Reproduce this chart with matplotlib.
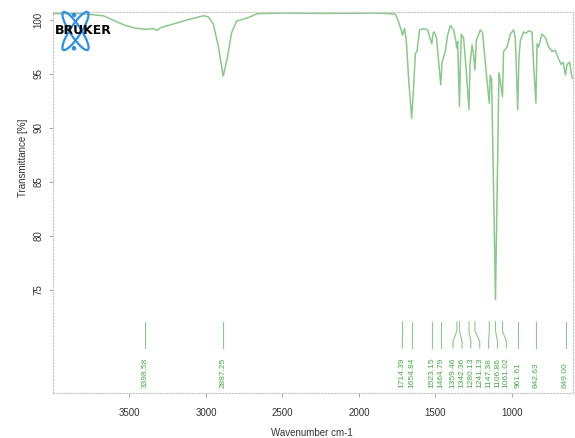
import matplotlib.pyplot as plt
from matplotlib.patches import Ellipse, Circle
from matplotlib.transforms import blended_transform_factory

# Spectrum (wavenumber cm-1, transmittance %)
wavenumber = [4000, 3820, 3670, 3592, 3526, 3461, 3398.58, 3343, 3317, 3297,
              3199, 3101, 3016, 2984, 2951, 2918, 2887.25, 2860, 2833, 2800,
              2755, 2729, 2663, 2500, 2200, 1900, 1800, 1761, 1740, 1724,
              1714.39, 1707, 1701, 1690, 1674, 1654.84, 1642, 1631, 1620, 1603,
              1576, 1550, 1537, 1523.15, 1515, 1507, 1493, 1478, 1464.79, 1456,
              1435, 1420, 1402, 1380, 1369, 1359.46, 1354, 1350, 1342.36, 1337,
              1330, 1315, 1300, 1280.13, 1273, 1260, 1251, 1241.13, 1232, 1206,
              1191, 1167, 1147.38, 1141, 1132, 1106.86, 1084, 1075, 1061.02, 1054,
              1031, 1010, 988, 977, 961.61, 953, 944, 923, 905, 890,
              868, 857, 842.63, 835, 825, 803, 781, 759, 737, 716,
              694, 678, 665, 649.00, 639, 622, 607, 600]
transmittance = [100.6, 100.6, 100.4, 99.9, 99.5, 99.25, 99.15, 99.2, 99.05, 99.3,
                 99.7, 100.1, 100.4, 100.3, 99.6, 97.5, 94.8, 96.5, 98.8, 99.9,
                 100.1, 100.2, 100.6, 100.65, 100.62, 100.65, 100.6, 100.55, 99.8, 99.1,
                 98.6, 99.0, 99.2, 98.1, 94.4, 90.9, 93.8, 96.9, 97.1, 99.1,
                 99.2, 99.1, 98.4, 97.8, 98.8, 98.9, 98.4, 96.1, 94.0, 96.1,
                 97.1, 98.6, 99.5, 99.1, 98.3, 97.4, 98.0, 95.7, 92.0, 95.7,
                 98.7, 98.3, 95.7, 91.7, 96.0, 97.7, 96.9, 95.4, 98.1, 99.1,
                 98.8, 95.1, 92.3, 94.9, 94.5, 74.1, 95.1, 94.3, 92.9, 97.1,
                 97.5, 98.7, 99.1, 98.3, 91.7, 96.6, 98.1, 98.9, 98.8, 99.0,
                 98.9, 95.7, 92.3, 97.8, 97.5, 98.7, 98.4, 97.5, 97.1, 97.2,
                 96.4, 95.9, 96.1, 94.9, 95.9, 96.1, 94.7, 94.6]

# Peak picks and where their rotated labels sit
peaks = [3398.58, 2887.25, 1714.39, 1654.84, 1523.15, 1464.79, 1359.46, 1342.36,
         1280.13, 1241.13, 1147.38, 1106.86, 1061.02, 961.61, 842.63, 649.00]
label_x = [3398.58, 2887.25, 1716, 1654.84, 1523.15, 1464.79, 1384, 1326,
           1268, 1210, 1152, 1094, 1036, 961.61, 842.63, 649.00]

xticks = [3500, 3000, 2500, 2000, 1500, 1000]
yticks = [75, 80, 85, 90, 95, 100]

plt.rcParams['font.family'] = ['Liberation Sans', 'DejaVu Sans']

line_col = '#8cc78c'
label_col = '#4aa84a'
frame_col = '#c8c8c8'

fig = plt.figure(figsize=(5.75, 4.38), dpi=100)
ax = fig.add_axes([53 / 575, 1 - 393 / 438, 520 / 575, 381 / 438])

ax.plot(wavenumber, transmittance, color=line_col, lw=1.1)
ax.set_xlim(4000, 600)
ax.set_ylim(65.45, 100.75)

ax.set_xticks(xticks)
ax.set_yticks(yticks)
ax.tick_params(axis='both', colors='#999999', labelcolor='#333333',
               labelsize=7, length=3, width=0.6, direction='out')
ax.tick_params(axis='x', pad=8)
ax.tick_params(axis='y', pad=4)
for lab in ax.get_yticklabels():
    lab.set_rotation(90)
    lab.set_va('center')

for side in ax.spines.values():
    side.set_color(frame_col)
    side.set_linestyle(':')
    side.set_linewidth(0.9)

# peak labels with leader lines
tr = blended_transform_factory(ax.transData, ax.transAxes)
for p, tx in zip(peaks, label_x):
    ax.plot([p, p, tx, tx], [0.187, 0.163, 0.136, 0.118], color=line_col,
            lw=0.8, transform=tr, clip_on=False)
    ax.text(tx, 0.012, f'{p:.2f}', rotation=90, ha='center', va='bottom',
            fontsize=6, color=label_col, transform=tr)

fig.text(312 / 575, 1 - 433 / 438, 'Wavenumber cm-1', ha='center',
         va='center', fontsize=7, color='#333333')
fig.text(23 / 575, 1 - 158 / 438, 'Transmittance [%]', rotation=90,
         ha='center', va='center', fontsize=7, color='#333333')

# Bruker logo, drawn in a small pixel-unit inset
logo = fig.add_axes([50 / 575, 1 - 56 / 438, 70 / 575, 48 / 438])
logo.set_xlim(0, 70)
logo.set_ylim(0, 48)
logo.axis('off')
blue = '#2f8fe0'
for ang in (33, -33):
    logo.add_patch(Ellipse((25.5, 25), 11, 45, angle=ang, fill=False,
                           ec=blue, lw=1.6))
logo.add_patch(Circle((24, 41), 1.6, color=blue))
logo.add_patch(Circle((24, 7.7), 1.6, color=blue))
logo.text(33, 25, 'BRUKER', ha='center', va='center', fontsize=9,
          fontweight='bold', color='black', family='DejaVu Sans')

fig.savefig('out.png', dpi=100)
